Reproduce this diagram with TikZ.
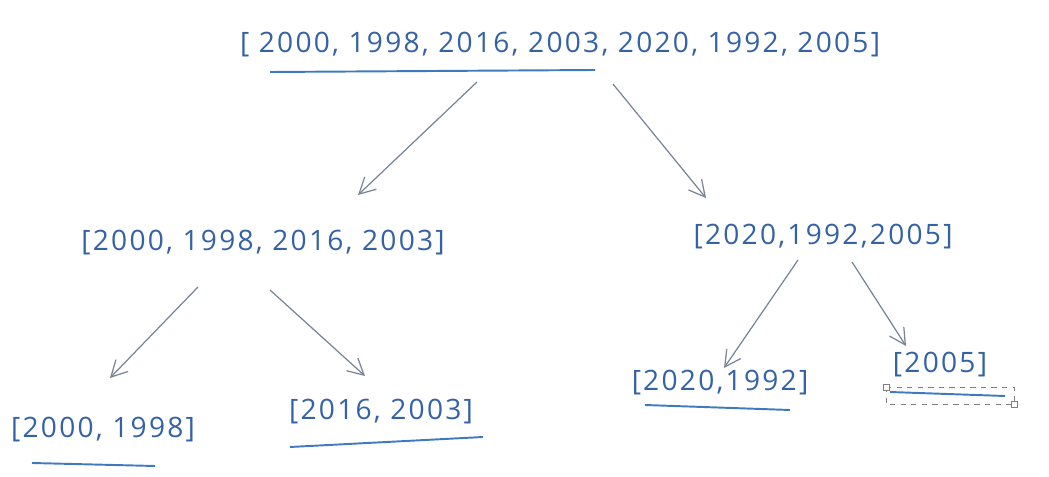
\documentclass[tikz,border=0pt]{standalone}
\usepackage{fontspec}
\newfontfamily\hand[LetterSpace=8]{Open Sans}
\usepackage{tikz}
\usetikzlibrary{
	arrows.meta,
	positioning,
	calc
}
\definecolor{ink}{RGB}{52,98,165}
\definecolor{uline}{RGB}{62,122,192}
\definecolor{arrgray}{RGB}{120,132,150}

\begin{document}
\begin{tikzpicture}[
			font=\hand\fontsize{16}{18}\selectfont,
			lst/.style={text=ink, inner sep=1pt},
			fl/.style={-{Straight Barb[length=3.2mm, width=3.4mm]}, arrgray, line width=0.7pt},
			ul/.style={uline, line width=1.1pt},
			sel/.style={gray, dashed, line width=0.4pt}
		]
		\useasboundingbox (0,0) rectangle (20.98,9.52);

		\node[lst] (top) at (11.2,8.62) {[ 2000, 1998, 2016, 2003, 2020, 1992, 2005]};
		\node[lst] (ml) at (5.26,4.66) {[2000, 1998, 2016, 2003]};
		\node[lst] (mr) at (16.46,4.78) {[2020,1992,2005]};
		\node[lst] (ll) at (2.06,0.92) {[2000, 1998]};
		\node[lst] (lr) at (7.62,1.28) {[2016, 2003]};
		\node[lst] (rl) at (14.4,1.86) {[2020,1992]};
		\node[lst] (rr) at (18.8,2.22) {[2005]};

		% splits
		\draw[fl] ($(top)+(-1.66,-0.74)$) -- ($(ml)+(1.9,0.96)$);
		\draw[fl] ($(top)+(1.06,-0.78)$) -- ($(mr)+(-2.34,0.78)$);
		\draw[fl] ($(ml)+(-1.3,-0.88)$) -- ($(ll)+(0.14,1.04)$);
		\draw[fl] ($(ml)+(0.14,-0.94)$) -- ($(lr)+(-0.32,0.72)$);
		\draw[fl] ($(mr)+(-0.5,-0.46)$) -- ($(rl)+(0.08,0.3)$);
		\draw[fl] ($(mr)+(0.58,-0.5)$) -- ($(rr)+(-0.68,0.38)$);

		% underlines
		\draw[ul] ($(top)+(-5.8,-0.54)$) -- ($(top)+(0.7,-0.5)$);
		\draw[ul] ($(ll)+(-1.42,-0.66)$) -- ($(ll)+(1.04,-0.72)$);
		\draw[ul] ($(lr)+(-1.82,-0.7)$) -- ($(lr)+(2.04,-0.5)$);
		\draw[ul] ($(rl)+(-1.5,-0.44)$) -- ($(rl)+(1.4,-0.54)$);
		\draw[ul] ($(rr)+(-1.0,-0.54)$) -- ($(rr)+(1.3,-0.62)$);
		\draw[sel] ($(rr)+(-1.08,-0.44)$) rectangle ($(rr)+(1.48,-0.78)$);
		\draw[gray, fill=white, line width=0.4pt] ($(rr)+(-1.14,-0.5)$) rectangle ++(0.12,0.12);
		\draw[gray, fill=white, line width=0.4pt] ($(rr)+(1.42,-0.84)$) rectangle ++(0.12,0.12);
	\end{tikzpicture}
\end{document}
